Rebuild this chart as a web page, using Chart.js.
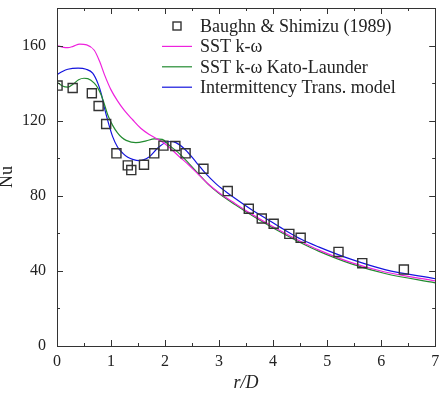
<!DOCTYPE html>
<html>
<head>
<meta charset="utf-8">
<script src="https://cdn.jsdelivr.net/npm/chart.js@4"></script>
<style>
html,body{margin:0;padding:0;background:#fff;}
canvas{display:block;}
</style>
</head>
<body>
<canvas id="c" width="443" height="394"></canvas>
<script>
// ---- data ----
const xTickVals = [0, 1, 2, 3, 4, 5, 6, 7];
const yTickVals = [0, 40, 80, 120, 160];

const expR  = [0.01, 0.29, 0.645, 0.77, 0.91, 1.10, 1.31, 1.375, 1.61, 1.80, 1.97, 2.19, 2.38, 2.71, 3.16, 3.55, 3.79, 4.01, 4.30, 4.51, 5.21, 5.65, 6.42];
const expNu = [138.7, 137.4, 134.6, 127.8, 118.2, 102.6, 96.2, 93.7, 96.5, 102.6, 106.7, 106.5, 102.6, 94.4, 82.5, 73.1, 67.9, 65.1, 59.7, 57.6, 50.1, 44.1, 40.7];

const sstR  = [0, 0.1, 0.2, 0.3, 0.42, 0.55, 0.69, 0.79, 0.88, 1.0, 1.12, 1.25, 1.4, 1.55, 1.7, 1.85, 1.95, 2.07, 2.25, 2.44, 2.63, 2.81, 3.0, 3.3, 3.61, 3.92, 4.22, 4.53, 4.84, 5.45, 6.07, 7.0];
const sstNu = [160, 159.2, 158.9, 159.6, 160.8, 160.4, 157.5, 151.5, 144.4, 136.4, 130.5, 125.3, 120.5, 116, 112.8, 110.3, 108.6, 106, 101.2, 96.4, 91, 86, 81.6, 75.8, 70.1, 64.8, 60.0, 55.4, 51.2, 44.4, 39.4, 34.7];

const katoR  = [0, 0.1, 0.2, 0.3, 0.4, 0.5, 0.57, 0.69, 0.76, 0.82, 0.88, 0.94, 1.03, 1.12, 1.2, 1.28, 1.46, 1.65, 1.8, 1.95, 2.07, 2.26, 2.44, 2.63, 2.81, 3.0, 3.3, 3.61, 3.92, 4.22, 4.53, 4.84, 5.45, 6.07, 7.0];
const katoNu = [140.5, 138.5, 137.9, 139.5, 141.8, 142.6, 142.4, 140, 137.2, 133.5, 128.5, 123, 117.5, 113.5, 111, 109.5, 108.3, 109.2, 110.3, 110, 107, 102.6, 97.3, 91.3, 85.8, 81.2, 75.2, 69.5, 64.2, 59.4, 54.7, 50.5, 43.7, 38.6, 33.6];

const interR  = [0, 0.1, 0.2, 0.39, 0.54, 0.66, 0.755, 0.82, 0.88, 0.94, 1.03, 1.12, 1.22, 1.31, 1.40, 1.52, 1.71, 1.86, 2.01, 2.1, 2.2, 2.38, 2.57, 2.75, 2.94, 3.12, 3.30, 3.61, 3.92, 4.22, 4.53, 4.84, 5.45, 6.07, 7.0];
const interNu = [144.5, 146.2, 147.4, 148, 147.4, 145.3, 140, 134.3, 126.5, 120, 111.5, 106, 102.6, 100.5, 99.4, 98.7, 100.8, 105.3, 108.4, 108.9, 108.3, 104.4, 98.1, 91.9, 86.5, 82.3, 78.5, 72.4, 67, 61.7, 56.7, 52.8, 46.1, 40.7, 35.8];

const seriesLabels = ['Baughn & Shimizu (1989)', 'SST k-\u03c9', 'SST k-\u03c9 Kato-Launder', 'Intermittency Trans. model'];

const pts = (xs, ys) => xs.map((x, i) => ({x: x, y: ys[i]}));

const FONT = 'Liberation Serif';
const INK = '#222';

const lineDs = (label, xs, ys, color) => ({
  label, data: pts(xs, ys), showLine: true, borderColor: color, backgroundColor: color,
  borderWidth: 1.2, pointRadius: 0, cubicInterpolationMode: 'monotone', fill: false, order: 2
});

const noPad = s => { s.paddingTop = 0; s.paddingBottom = 0; s.paddingLeft = 0; s.paddingRight = 0; };

const frameTicks = {
  id: 'frameTicks',
  afterDraw(chart) {
    const ctx = chart.ctx, a = chart.chartArea;
    const xs = chart.scales.x, ys = chart.scales.y;
    ctx.save();
    ctx.strokeStyle = '#333';
    ctx.lineWidth = 1;
    ctx.strokeRect(Math.round(a.left) + 0.5, Math.round(a.top) + 0.5, Math.round(a.right - a.left), Math.round(a.bottom - a.top));
    const major = 6, minor = 3;
    ctx.beginPath();
    const xMinor = [];
    for (let i = 0; i < xTickVals.length - 1; i++) xMinor.push((xTickVals[i] + xTickVals[i + 1]) / 2);
    const yMinor = [];
    for (let i = 0; i < yTickVals.length - 1; i++) yMinor.push((yTickVals[i] + yTickVals[i + 1]) / 2);
    const yStep = yTickVals[1] - yTickVals[0];
    let extra = yTickVals[yTickVals.length - 1] + yStep / 2;
    while (extra < ys.max) { yMinor.push(extra); extra += yStep; }
    const vx = (v, len) => {
      const p = Math.round(xs.getPixelForValue(v)) + 0.5;
      ctx.moveTo(p, a.bottom); ctx.lineTo(p, a.bottom - len);
      ctx.moveTo(p, a.top); ctx.lineTo(p, a.top + len);
    };
    const hy = (v, len) => {
      const p = Math.round(ys.getPixelForValue(v)) + 0.5;
      ctx.moveTo(a.left, p); ctx.lineTo(a.left + len, p);
      ctx.moveTo(a.right, p); ctx.lineTo(a.right - len, p);
    };
    xTickVals.forEach(v => vx(v, major));
    xMinor.forEach(v => vx(v, minor));
    yTickVals.forEach(v => hy(v, major));
    yMinor.forEach(v => hy(v, minor));
    ctx.stroke();

    // legend
    const lx0 = a.left + 105, lx1 = a.left + 135, tx = a.left + 143;
    const y0 = a.top + 18, dy = 20.4;
    ctx.font = '18px "' + FONT + '"';
    ctx.textBaseline = 'alphabetic';
    ctx.textAlign = 'left';
    chart.data.datasets.forEach((ds, i) => {
      const yy = y0 + i * dy;
      ctx.strokeStyle = ds.borderColor;
      if (ds.showLine) {
        ctx.lineWidth = 1.2;
        ctx.beginPath(); ctx.moveTo(lx0, yy); ctx.lineTo(lx1, yy); ctx.stroke();
      } else {
        ctx.lineWidth = ds.borderWidth;
        const s = 8, cx = (lx0 + lx1) / 2;
        ctx.strokeRect(cx - s / 2, yy - s / 2, s, s);
      }
      ctx.fillStyle = INK;
      ctx.fillText(ds.label, tx, yy + 6);
    });
    ctx.restore();
  }
};

new Chart(document.getElementById('c'), {
  type: 'scatter',
  data: {
    datasets: [
      { label: seriesLabels[0], data: pts(expR, expNu), showLine: false, pointStyle: 'rect',
        pointRadius: 6.4, borderColor: '#333', backgroundColor: 'rgba(0,0,0,0)', borderWidth: 1.4, order: 1 },
      lineDs(seriesLabels[1], sstR, sstNu, '#ee22dd'),
      lineDs(seriesLabels[2], katoR, katoNu, '#228b30'),
      lineDs(seriesLabels[3], interR, interNu, '#1414dd')
    ]
  },
  options: {
    responsive: false,
    animation: false,
    layout: { padding: { top: 8, right: 5, left: 0, bottom: 0 } },
    plugins: { legend: { display: false }, tooltip: { enabled: false } },
    scales: {
      x: {
        type: 'linear', min: 0, max: 7,
        afterBuildTicks: s => { s.ticks = xTickVals.map(v => ({ value: v })); },
        afterFit: s => { s.height = 48; noPad(s); },
        grid: { display: false, drawTicks: false },
        border: { display: false },
        ticks: { padding: 6, color: INK, maxRotation: 0, font: { family: FONT, size: 16 } },
        title: { display: true, text: 'r/D', color: INK, padding: 0, font: { family: FONT, size: 18, style: 'italic' } }
      },
      y: {
        type: 'linear', min: 0, max: 180,
        afterBuildTicks: s => { s.ticks = yTickVals.map(v => ({ value: v })); },
        afterFit: s => { s.width = 57; noPad(s); },
        grid: { display: false, drawTicks: false },
        border: { display: false },
        ticks: { padding: 11, color: INK, font: { family: FONT, size: 16 } },
        title: { display: true, text: 'Nu', color: INK, padding: { top: -2, bottom: 0 }, font: { family: FONT, size: 18, lineHeight: 1 } }
      }
    }
  },
  plugins: [frameTicks]
});
</script>
</body>
</html>
